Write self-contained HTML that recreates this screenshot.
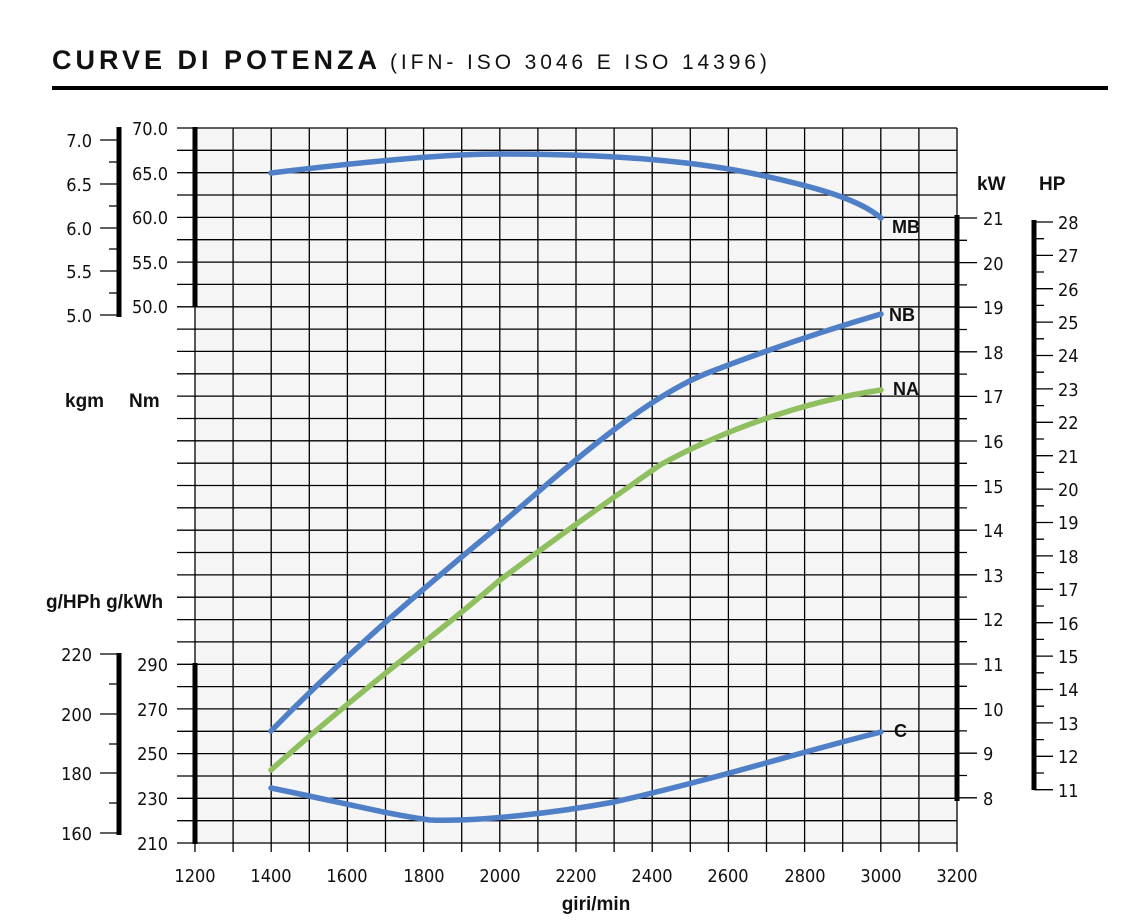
<!DOCTYPE html>
<html><head><meta charset="utf-8"><style>
body{margin:0;background:#fff;}
svg{display:block;font-family:"DejaVu Sans Condensed","Liberation Sans",sans-serif;}
</style></head><body>
<svg width="1133" height="923" viewBox="0 0 1133 923" xmlns="http://www.w3.org/2000/svg">
<text x="52" y="69" font-family="Liberation Sans, sans-serif" font-weight="bold" font-size="27" letter-spacing="4" fill="#111">CURVE DI POTENZA</text>
<text x="390" y="69" font-family="Liberation Sans, sans-serif" font-size="21" letter-spacing="3.9" fill="#111">(IFN- ISO 3046 E ISO 14396)</text>
<rect x="52" y="86" width="1056" height="4" fill="#000"/>
<rect x="195" y="128" width="762" height="715" fill="#f5f5f5"/>
<g stroke="#000" stroke-width="1.3">
<path d="M177 128H957M177 150.3H957M177 172.7H957M177 195H957M177 217.4H957M177 239.7H957M177 262.1H957M177 284.4H957M177 306.8H957M177 329.1H957M177 351.4H957M177 373.8H957M177 396.1H957M177 418.5H957M177 440.8H957M177 463.2H957M177 485.5H957M177 507.8H957M177 530.2H957M177 552.5H957M177 574.9H957M177 597.2H957M177 619.6H957M177 641.9H957M177 664.3H957M177 686.6H957M177 708.9H957M177 731.3H957M177 753.6H957M177 776H957M177 798.3H957M177 820.7H957M177 843H957"/>
<path d="M195 128V852M233.1 128V852M271.2 128V852M309.3 128V852M347.4 128V852M385.5 128V852M423.6 128V852M461.7 128V852M499.8 128V852M537.9 128V852M576 128V852M614.1 128V852M652.2 128V852M690.3 128V852M728.4 128V852M766.5 128V852M804.6 128V852M842.7 128V852M880.8 128V852M918.9 128V852M957 128V852"/>
</g>
<g stroke="#000" stroke-width="5">
<path d="M195 127V307M195 663V844M119 127V317M119 653V835M957 215V801M1034 220V790"/>
</g>
<g stroke="#000" stroke-width="1.3">
<path d="M100 140H119M109 162H119M100 184H119M109 206H119M100 228H119M109 249H119M100 271H119M109 293H119M100 315H119"/>
<path d="M100 654H119M109 684H119M100 714H119M109 744H119M100 773H119M109 803H119M100 833H119"/>
<path d="M957 218H977M957 240.3H967M957 262.6H977M957 284.9H967M957 307.2H977M957 329.5H967M957 351.8H977M957 374.1H967M957 396.4H977M957 418.7H967M957 441H977M957 463.3H967M957 485.6H977M957 507.9H967M957 530.2H977M957 552.5H967M957 574.8H977M957 597.1H967M957 619.4H977M957 641.7H967M957 664H977M957 686.3H967M957 708.6H977M957 730.9H967M957 753.2H977M957 775.5H967M957 797.8H977"/>
<path d="M1034 222H1053M1034 238.7H1044M1034 255.4H1053M1034 272H1044M1034 288.7H1053M1034 305.4H1044M1034 322.1H1053M1034 338.8H1044M1034 355.5H1053M1034 372.2H1044M1034 388.9H1053M1034 405.6H1044M1034 422.3H1053M1034 439H1044M1034 455.7H1053M1034 472.4H1044M1034 489.1H1053M1034 505.8H1044M1034 522.5H1053M1034 539.2H1044M1034 555.9H1053M1034 572.6H1044M1034 589.3H1053M1034 606H1044M1034 622.7H1053M1034 639.4H1044M1034 656.1H1053M1034 672.8H1044M1034 689.5H1053M1034 706.2H1044M1034 722.9H1053M1034 739.6H1044M1034 756.3H1053M1034 773H1044M1034 789.7H1053"/>
</g>
<g font-size="18" fill="#111">
<g text-anchor="end">
<text x="92" y="147">7.0</text><text x="92" y="191">6.5</text><text x="92" y="235">6.0</text><text x="92" y="278">5.5</text><text x="92" y="322">5.0</text>
<text x="168" y="135">70.0</text><text x="168" y="180">65.0</text><text x="168" y="224">60.0</text><text x="168" y="269">55.0</text><text x="168" y="313">50.0</text>
<text x="92" y="661">220</text><text x="92" y="721">200</text><text x="92" y="780">180</text><text x="92" y="840">160</text>
<text x="168" y="671">290</text><text x="168" y="716">270</text><text x="168" y="760">250</text><text x="168" y="805">230</text><text x="168" y="850">210</text>
</g>
<g text-anchor="start">
<text x="983" y="225">21</text><text x="983" y="270">20</text><text x="983" y="314">19</text><text x="983" y="359">18</text><text x="983" y="403">17</text><text x="983" y="448">16</text><text x="983" y="493">15</text><text x="983" y="537">14</text><text x="983" y="582">13</text><text x="983" y="626">12</text><text x="983" y="671">11</text><text x="983" y="716">10</text><text x="983" y="760">9</text><text x="983" y="805">8</text>
<text x="1058" y="229">28</text><text x="1058" y="262">27</text><text x="1058" y="296">26</text><text x="1058" y="329">25</text><text x="1058" y="362">24</text><text x="1058" y="396">23</text><text x="1058" y="429">22</text><text x="1058" y="463">21</text><text x="1058" y="496">20</text><text x="1058" y="529">19</text><text x="1058" y="563">18</text><text x="1058" y="596">17</text><text x="1058" y="630">16</text><text x="1058" y="663">15</text><text x="1058" y="696">14</text><text x="1058" y="730">13</text><text x="1058" y="763">12</text><text x="1058" y="797">11</text>
</g>
<g text-anchor="middle">
<text x="195" y="882">1200</text><text x="271" y="882">1400</text><text x="347" y="882">1600</text><text x="424" y="882">1800</text><text x="500" y="882">2000</text><text x="576" y="882">2200</text><text x="652" y="882">2400</text><text x="728" y="882">2600</text><text x="805" y="882">2800</text><text x="881" y="882">3000</text><text x="957" y="882">3200</text>
</g>
</g>
<g font-family="Liberation Sans, sans-serif" font-weight="bold" font-size="19" fill="#111">
<text x="65" y="407">kgm</text><text x="129" y="407">Nm</text>
<text x="46" y="608">g/HPh g/kWh</text>
<text x="977" y="190">kW</text><text x="1039" y="190">HP</text>
<text x="596" y="910" text-anchor="middle">giri/min</text>
<g font-size="18"><text x="892" y="233">MB</text><text x="889" y="321">NB</text><text x="893" y="395">NA</text><text x="894" y="737">C</text></g>
</g>
<g fill="none" stroke-width="5.5" stroke-linecap="round">
<path d="M271 173 C380 160 450 154 500 154 C620 154 700 162 760 175 C820 188 860 200 881 218" stroke="#4f7fc6"/>
<path d="M271 731 C360 640 440 575 500 525 C580 455 650 395 710 372 C780 345 840 326 881 314" stroke="#4f7fc6"/>
<path d="M271 770 C360 690 440 632 500 580 C560 535 610 500 660 465 C720 432 800 402 881 390" stroke="#8fbf5f"/>
<path d="M271 788 C340 802 390 815 430 820 C480 822 560 812 614 802 C720 778 800 752 881 732" stroke="#4f7fc6"/>
</g>
</svg>
</body></html>
